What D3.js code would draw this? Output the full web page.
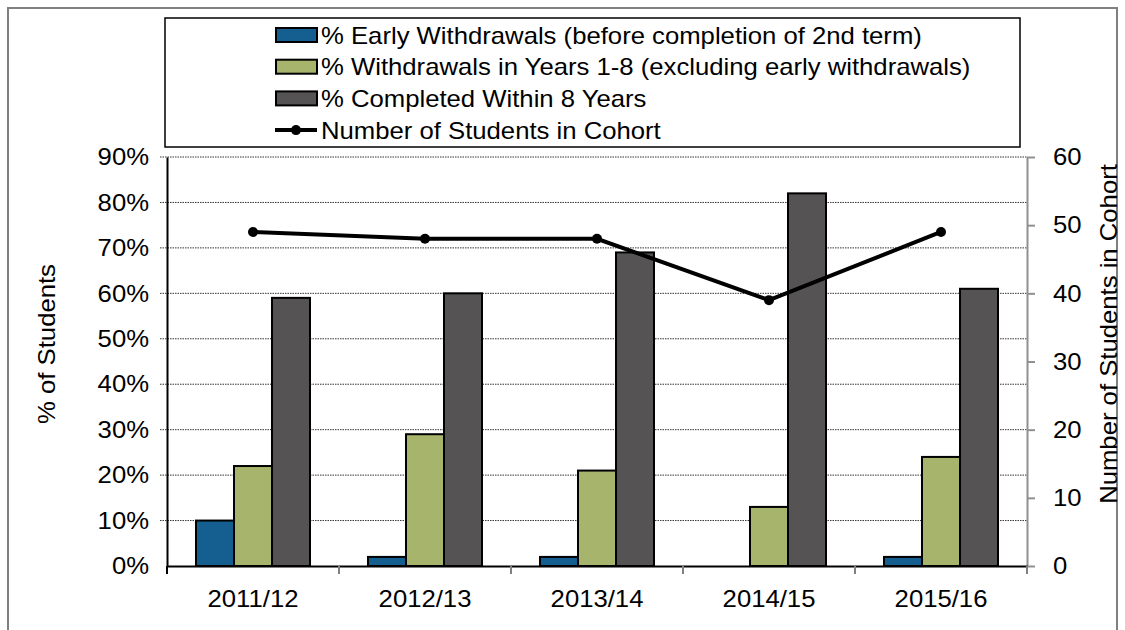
<html>
<title>Cohort Outcomes</title>
<script src="https://d3js.org/d3.v7.min.js"></script>
<style>
  body { margin: 0; background: white; }
  text { font-family: "Liberation Sans", Arial, sans-serif; fill: #000; }
</style>
<body>
<svg width="1125" height="630"></svg>
<script>
var years = ["2011/12", "2012/13", "2013/14", "2014/15", "2015/16"];
var earlyWithdrawals = [10, 2, 2, 0, 2];
var withdrawals18 = [22, 29, 21, 13, 24];
var completed8 = [59, 60, 69, 82, 61];
var cohortSize = [49, 48, 48, 39, 49];
var leftTicks = [0, 10, 20, 30, 40, 50, 60, 70, 80, 90];
var rightTicks = [0, 10, 20, 30, 40, 50, 60];
var seriesNames = [
  "% Early Withdrawals (before completion of 2nd term)",
  "% Withdrawals in Years 1-8 (excluding early withdrawals)",
  "% Completed Within 8 Years",
  "Number of Students in Cohort"
];
var colors = ["#145f8f", "#a7b46b", "#555354"];

var svg = d3.select("svg");
var pLeft = 167, pRight = 1027, pTop = 157, pBottom = 566;
var fs = "24px";

// outer frame
svg.append("rect")
  .attr("x", 8).attr("y", 8).attr("width", 1109).attr("height", 640)
  .attr("fill", "none").attr("stroke", "#808080").attr("stroke-width", 2);

var xs = d3.scaleBand().domain(years).range([pLeft, pRight]);
var ys = d3.scaleLinear().domain([0, 90]).range([pBottom, pTop]);
var ys2 = d3.scaleLinear().domain([0, 60]).range([pBottom, pTop]);

// gridlines
svg.append("g").selectAll("line").data(leftTicks.slice(1)).enter().append("line")
  .attr("x1", pLeft - 7).attr("x2", pRight)
  .attr("y1", function(d) { return ys(d); })
  .attr("y2", function(d) { return ys(d); })
  .attr("stroke", "#333").attr("stroke-width", 1)
  .attr("stroke-dasharray", "1.5,1");

// bars
var series = [earlyWithdrawals, withdrawals18, completed8];
var barW = 38, pad = 29;
series.forEach(function(vals, s) {
  svg.append("g").selectAll("rect").data(vals).enter().append("rect")
    .attr("x", function(d, i) { return xs(years[i]) + pad + s * barW; })
    .attr("y", function(d) { return ys(d); })
    .attr("width", barW)
    .attr("height", function(d) { return pBottom - ys(d); })
    .attr("fill", colors[s])
    .attr("stroke", function(d) { return d > 0 ? "#000" : "none"; })
    .attr("stroke-width", 2);
});

// left axis
var yAxis = svg.append("g")
  .attr("transform", "translate(" + pLeft + ",0)")
  .call(d3.axisLeft(ys).tickValues(leftTicks).tickSize(0).tickPadding(18)
    .tickFormat(function(d) { return d + "%"; }));
yAxis.select(".domain").attr("stroke", "#000").attr("stroke-width", 2);

// right axis
var yAxis2 = svg.append("g")
  .attr("transform", "translate(" + pRight + ",0)")
  .call(d3.axisRight(ys2).tickValues(rightTicks).tickSize(8).tickSizeOuter(0).tickPadding(18));
yAxis2.select(".domain").attr("stroke", "#909090").attr("stroke-width", 2);
yAxis2.selectAll("line").attr("stroke", "#909090").attr("stroke-width", 2);

// x axis
var xAxis = svg.append("g")
  .attr("transform", "translate(0," + pBottom + ")")
  .call(d3.axisBottom(xs).tickSize(0).tickPadding(24));
xAxis.select(".domain").attr("stroke", "#000").attr("stroke-width", 2);
svg.append("g").selectAll("line").data(years.concat(["end"])).enter().append("line")
  .attr("x1", function(d, i) { return pLeft + i * xs.bandwidth(); })
  .attr("x2", function(d, i) { return pLeft + i * xs.bandwidth(); })
  .attr("y1", pBottom).attr("y2", pBottom + 8)
  .attr("stroke", function(d, i) { return i == 0 ? "#000" : "#808080"; })
  .attr("stroke-width", 2);

[yAxis, yAxis2, xAxis].forEach(function(a) {
  a.selectAll("text").style("font-size", fs).style("font-family", "Liberation Sans, Arial").attr("fill", "#000");
});

// cohort line
var cx = function(d, i) { return xs(years[i]) + xs.bandwidth() / 2; };
svg.append("path")
  .datum(cohortSize)
  .attr("d", d3.line().x(cx).y(function(d) { return ys2(d); }))
  .attr("fill", "none").attr("stroke", "#000").attr("stroke-width", 4);
svg.append("g").selectAll("circle").data(cohortSize).enter().append("circle")
  .attr("cx", cx).attr("cy", function(d) { return ys2(d); })
  .attr("r", 5).attr("fill", "#000");

// axis titles
svg.append("text")
  .attr("transform", "translate(55,344) rotate(-90)")
  .attr("text-anchor", "middle").style("font-size", fs)
  .text("% of Students");
svg.append("text")
  .attr("transform", "translate(1117,334) rotate(-90)")
  .attr("text-anchor", "middle").style("font-size", fs)
  .text("Number of Students in Cohort");

// legend
var lg = svg.append("g");
lg.append("rect")
  .attr("x", 165).attr("y", 18).attr("width", 855).attr("height", 129)
  .attr("fill", "white").attr("stroke", "#000").attr("stroke-width", 1.5);
seriesNames.forEach(function(name, i) {
  var yy = 35 + i * 31.7;
  if (i < 3) {
    lg.append("rect")
      .attr("x", 276).attr("y", yy - 7).attr("width", 41).attr("height", 14)
      .attr("fill", colors[i]).attr("stroke", "#000").attr("stroke-width", 2);
  } else {
    lg.append("line").attr("x1", 275).attr("x2", 317).attr("y1", yy).attr("y2", yy)
      .attr("stroke", "#000").attr("stroke-width", 4);
    lg.append("circle").attr("cx", 296).attr("cy", yy).attr("r", 5).attr("fill", "#000");
  }
  lg.append("text")
    .attr("x", 321).attr("y", yy + 8.5)
    .style("font-size", fs)
    .text(name);
});

// the reference glyphs are slightly wider than Liberation Sans
svg.selectAll("text").each(function() {
  var len = this.getComputedTextLength();
  d3.select(this).attr("textLength", len * 1.07).attr("lengthAdjust", "spacingAndGlyphs");
});
</script>
</body>
</html>
